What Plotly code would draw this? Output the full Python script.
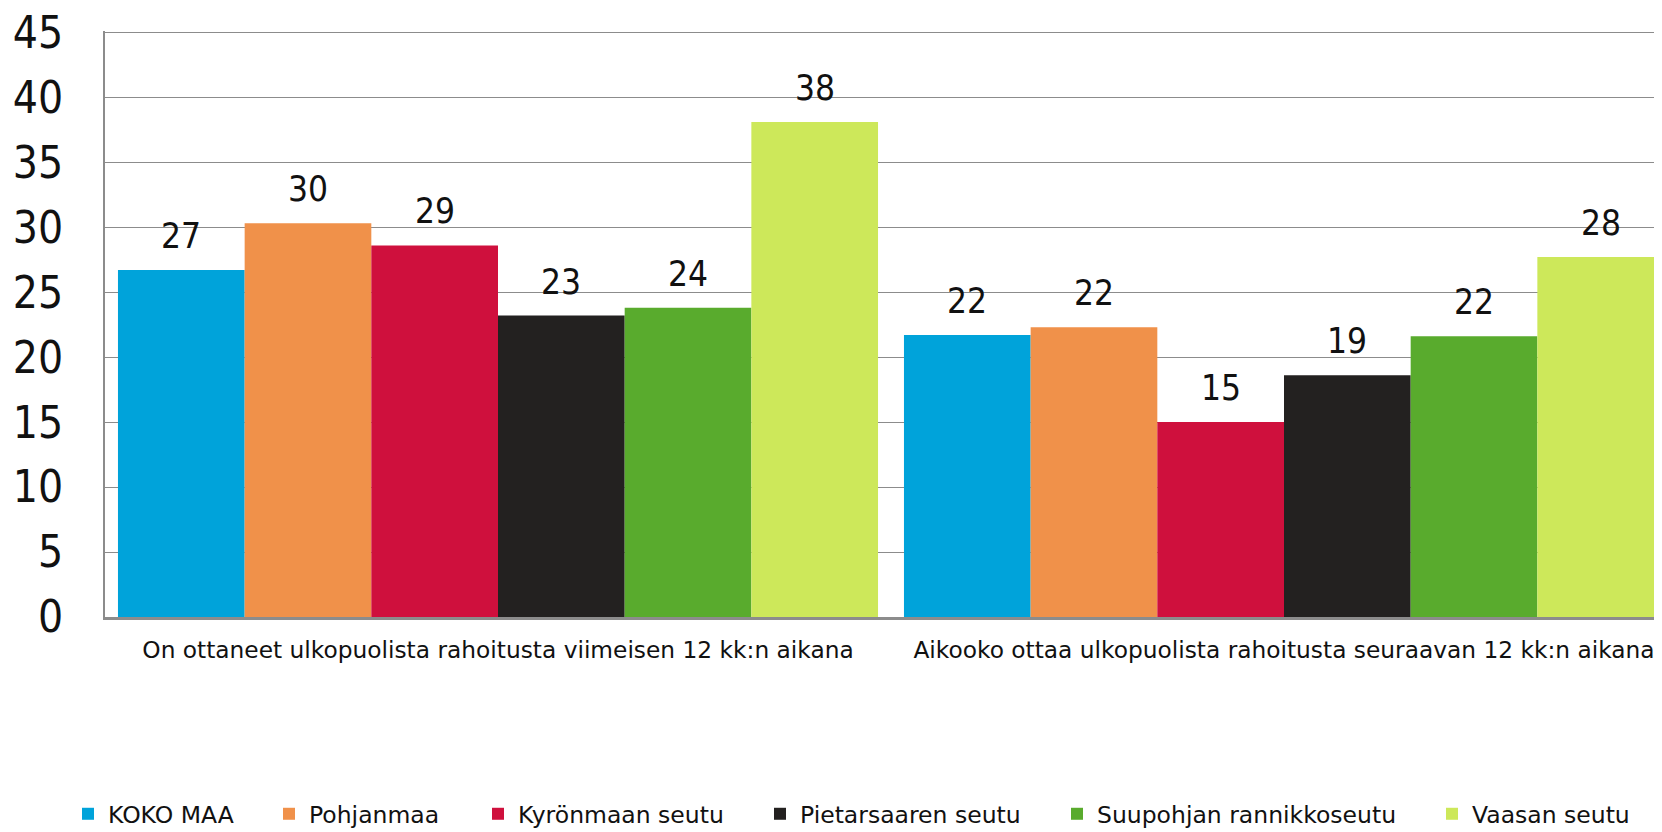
import plotly.graph_objects as go

# survey questions (x categories)
categories = [
    "On ottaneet ulkopuolista rahoitusta viimeisen 12 kk:n aikana",
    "Aikooko ottaa ulkopuolista rahoitusta seuraavan 12 kk:n aikana",
]

regions = ["KOKO MAA", "Pohjanmaa", "Kyrönmaan seutu",
           "Pietarsaaren seutu", "Suupohjan rannikkoseutu", "Vaasan seutu"]

koko_maa = [26.7, 21.7]
pohjanmaa = [30.3, 22.3]
kyronmaa = [28.6, 15.0]
pietarsaari = [23.2, 18.6]
suupohja = [23.8, 21.6]
vaasa = [38.1, 27.7]

colors = ["#00A3DA", "#F0914A", "#CF103D", "#232120", "#59AB2D", "#CDE85A"]

y_ticks = [0, 5, 10, 15, 20, 25, 30, 35, 40, 45]

FONT_NARROW = "DejaVu Sans Condensed, Liberation Sans Narrow, sans-serif"
FONT = "DejaVu Sans, Verdana, sans-serif"

# the page body adds an 8px margin, so the figure is a bit smaller than the window
OFF = 8
W, H = 1662 - OFF, 832 - OFF
L, R, T, B = 105 - OFF, 0, 31 - OFF, 215
plot_w = W - L - R
plot_h = H - T - B
legend_px = [90, 291, 500, 782, 1079, 1454]
legend_cy = 814 - OFF

BARGAP = 0.033
n = len(regions)
bar_w = (1 - BARGAP) / n

fig = go.Figure()
series = [koko_maa, pohjanmaa, kyronmaa, pietarsaari, suupohja, vaasa]
for i, (name, vals, col) in enumerate(zip(regions, series, colors)):
    fig.add_trace(go.Bar(
        x=categories, y=vals, name=name,
        marker=dict(color=col, line=dict(width=0)),
        legend="legend" if i == 0 else f"legend{i + 1}",
    ))
    # value labels sit a bit higher above the bars than plotly's outside text
    for j, v in enumerate(vals):
        fig.add_annotation(
            x=j + (i - (n - 1) / 2) * bar_w, y=v, xref="x", yref="y",
            text=f"{v:.0f}", showarrow=False, yanchor="bottom", yshift=12,
            font=dict(size=35, color="#111111", family=FONT_NARROW),
        )

layout_legends = {}
for i, px_x in enumerate(legend_px):
    key = "legend" if i == 0 else f"legend{i + 1}"
    layout_legends[key] = dict(
        x=(px_x - OFF - 22 - L) / plot_w, xanchor="left",
        y=-(legend_cy - (H - B)) / plot_h, yanchor="middle",
        orientation="h", bgcolor="rgba(0,0,0,0)",
        font=dict(size=23.5, color="#111111", family=FONT),
    )

fig.update_layout(
    width=W, height=H,
    margin=dict(l=L, r=R, t=T, b=B, autoexpand=False),
    barmode="group", bargap=BARGAP, bargroupgap=0,
    plot_bgcolor="white", paper_bgcolor="white",
    font=dict(family=FONT, color="#111111"),
    showlegend=True,
    **layout_legends,
)
fig.update_xaxes(
    range=[-0.5, -0.5 + plot_w / 786],
    showline=True, linecolor="#8c8c8c", linewidth=2.5,
    showgrid=False, ticks="", ticklabelstandoff=10,
    tickfont=dict(size=23.3, color="#111111", family=FONT),
)
fig.update_yaxes(
    range=[0, 45.1], tickvals=y_ticks,
    showline=True, linecolor="#8c8c8c", linewidth=2,
    showgrid=True, gridcolor="#8c8c8c", gridwidth=1.3,
    zeroline=False, ticks="", ticklabelstandoff=31,
    ticklabeloverflow="allow",
    tickfont=dict(size=44, color="#111111", family=FONT_NARROW),
)

fig.write_html("out.html")
